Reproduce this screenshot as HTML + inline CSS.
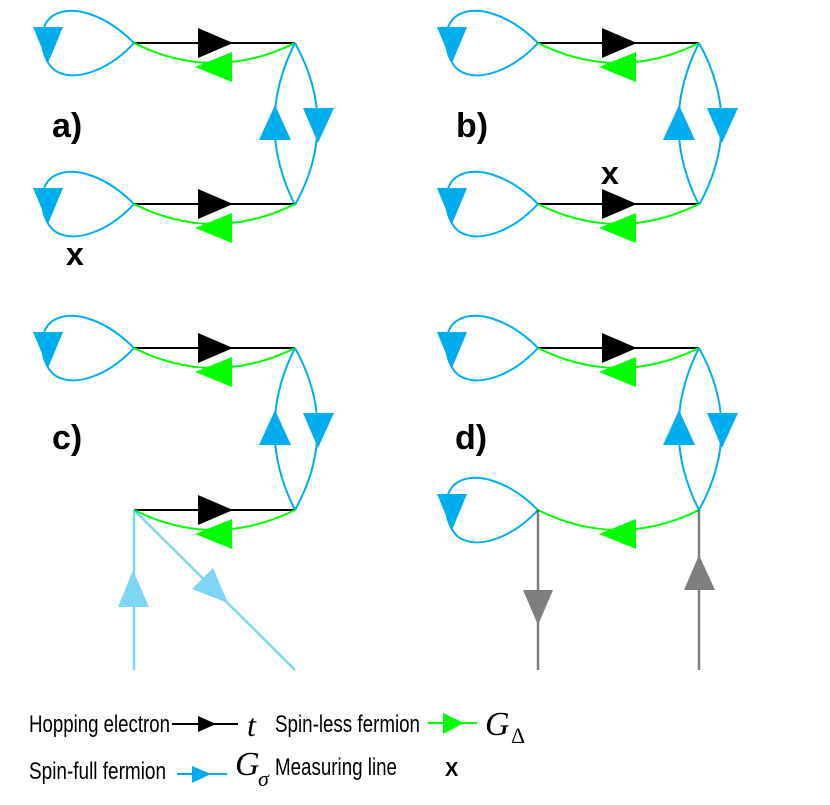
<!DOCTYPE html>
<html><head><meta charset="utf-8"><style>html,body{margin:0;padding:0;background:#fff}svg{display:block}</style></head>
<body>
<svg width="830" height="805" viewBox="0 0 830 805" xmlns="http://www.w3.org/2000/svg">
<defs>
<g id="loop">
  <path d="M0,0 C-30,-30 -62,-38 -80,-28 C-100,-16 -92,20 -78,28 C-58,40 -24,26 0,0" fill="none" stroke="#00AEEF" stroke-width="2"/>
  <polygon points="-101,-16 -71,-16 -86,20" fill="#00AEEF"/>
</g>
<g id="hop">
  <line x1="0" y1="0" x2="161" y2="0" stroke="#000" stroke-width="2"/>
  <polygon points="64,-15 64,15 99,0" fill="#000"/>
</g>
<g id="gd">
  <path d="M0,0 Q80,40 161,0" fill="none" stroke="#00FF00" stroke-width="2"/>
  <polygon points="61,24 98,9 98,39" fill="#00FF00"/>
</g>
<g id="lens">
  <path d="M161,0 Q120,81 161,162" fill="none" stroke="#00AEEF" stroke-width="2"/>
  <path d="M161,0 Q206,81 161,162" fill="none" stroke="#00AEEF" stroke-width="2"/>
  <polygon points="141,62 125,97 157,97" fill="#00AEEF"/>
  <polygon points="169,65 200,65 184,100" fill="#00AEEF"/>
</g>
</defs>

<g transform="translate(134,43)">
  <use href="#loop"/><use href="#hop"/><use href="#gd"/><use href="#lens"/>
  <g transform="translate(0,161)"><use href="#loop"/><use href="#hop"/><use href="#gd"/></g>
</g>
<g transform="translate(538,43)">
  <use href="#loop"/><use href="#hop"/><use href="#gd"/><use href="#lens"/>
  <g transform="translate(0,161)"><use href="#loop"/><use href="#hop"/><use href="#gd"/></g>
</g>
<g transform="translate(134,348)">
  <use href="#loop"/><use href="#hop"/><use href="#gd"/><use href="#lens"/>
  <g transform="translate(0,162)"><use href="#hop"/><use href="#gd"/></g>
</g>
<g opacity="0.5">
  <line x1="134" y1="510" x2="134" y2="670" stroke="#00AEEF" stroke-width="2.5"/>
  <polygon points="133,570 118,607 149,607" fill="#00AEEF"/>
  <line x1="134" y1="510" x2="295" y2="670" stroke="#00AEEF" stroke-width="2.5"/>
  <polygon points="228,603 192,589 213,568" fill="#00AEEF"/>
</g>
<g transform="translate(538,348)">
  <use href="#loop"/><use href="#hop"/><use href="#gd"/><use href="#lens"/>
  <g transform="translate(0,162)"><use href="#loop"/><use href="#gd"/></g>
</g>
<g opacity="0.5">
  <line x1="538" y1="510" x2="538" y2="670" stroke="#000" stroke-width="2.5"/>
  <polygon points="523,590 553,590 538,625" fill="#000"/>
  <line x1="699" y1="510" x2="699" y2="670" stroke="#000" stroke-width="2.5"/>
  <polygon points="699,555 684,590 715,590" fill="#000"/>
</g>

<g font-family="Liberation Sans, sans-serif" font-weight="bold" font-size="34" fill="#000">
  <text x="52" y="137">a)</text>
  <text x="456" y="137">b)</text>
  <text x="52" y="449">c)</text>
  <text x="455" y="449">d)</text>
</g>
<g font-family="Liberation Sans, sans-serif" font-weight="bold" font-size="32" fill="#000">
  <text x="66" y="265">x</text>
  <text x="601" y="184">x</text>
</g>

<g font-family="Liberation Sans, sans-serif" font-size="24" fill="#000">
  <text x="29" y="732" textLength="141" lengthAdjust="spacingAndGlyphs">Hopping electron</text>
  <text x="275" y="732" textLength="145" lengthAdjust="spacingAndGlyphs">Spin-less fermion</text>
  <text x="29" y="779" textLength="137" lengthAdjust="spacingAndGlyphs">Spin-full fermion</text>
  <text x="275" y="775" textLength="122" lengthAdjust="spacingAndGlyphs">Measuring line</text>
</g>
<text x="445" y="776" font-family="Liberation Sans, sans-serif" font-weight="bold" font-size="20" fill="#000">X</text>
<line x1="172" y1="724" x2="238" y2="724" stroke="#000" stroke-width="2"/>
<polygon points="198,716 198,732 216,724" fill="#000"/>
<line x1="428" y1="723" x2="477" y2="723" stroke="#00FF00" stroke-width="2"/>
<polygon points="443,713 443,734 464,723" fill="#00FF00"/>
<line x1="177" y1="774" x2="227" y2="774" stroke="#00AEEF" stroke-width="2"/>
<polygon points="192,766 192,783 211,774" fill="#00AEEF"/>
<g font-family="Liberation Serif, serif" font-style="italic" fill="#000">
  <text x="247" y="736" font-size="32">t</text>
  <text x="485" y="735" font-size="34">G</text>
  <text x="235" y="775" font-size="34">G</text>
  <text x="258" y="786" font-size="22">σ</text>
</g>
<text x="511" y="743" font-family="Liberation Serif, serif" font-size="22" fill="#000">Δ</text>
</svg>
</body></html>
